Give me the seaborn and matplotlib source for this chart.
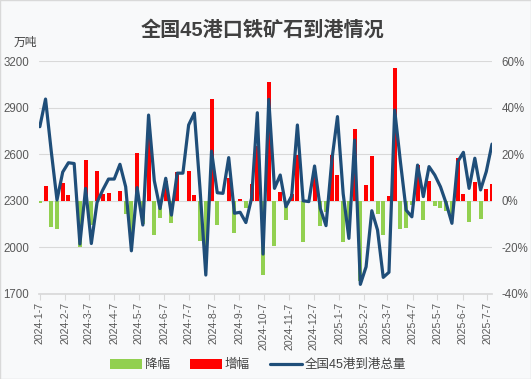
import numpy as np
import pandas as pd
import matplotlib
matplotlib.use('Agg')
import matplotlib.pyplot as plt
import seaborn as sns
from matplotlib.patches import Patch, Rectangle
from matplotlib.lines import Line2D

# weekly data, first week 2024-1-7
start_date = '2024-01-07'

# 全国45港到港总量 (万吨)
arrivals = [
    2777, 2955, 2618, 2305, 2485, 2545, 2540, 2022, 2380, 2025,
    2290, 2370, 2440, 2440, 2535, 2390, 1978, 2385, 2144, 2852,
    2430, 2250, 2445, 2208, 2478, 2478, 2788, 2865, 2370, 1822,
    2620, 2352, 2348, 2578, 2220, 2226, 2160, 2317, 2867, 1957,
    2953, 2380, 2466, 2262, 2331, 2788, 2300, 2295, 2524, 2250,
    2140, 2555, 2842, 2345, 2058, 2691, 1762, 1875, 2236, 2112,
    1807, 1840, 2884, 2551, 2240, 2197, 2530, 2327, 2520, 2466,
    2390, 2283, 2155, 2551, 2612, 2380, 2574, 2370, 2488, 2665,
]

# week-on-week change (%)
change_pct = [
    -1.0, 6.4, -11.4, -12.0, 7.8, 2.6, -0.2, -20.0, 17.7, -10.5,
    12.9, 3.0, 3.5, -0.3, 4.0, -5.7, -17.2, 20.6, -10.0, 30.0,
    -14.8, -7.4, 8.7, -9.7, 12.2, -0.3, 13.0, 2.7, -17.3, -23.1,
    43.8, -10.2, -0.3, 9.8, -14.0, 0.8, -3.2, 7.3, 23.7, -31.7,
    50.9, -19.5, 3.7, -8.3, 3.1, 19.8, -17.5, -0.2, 10.5, -10.9,
    -4.9, 19.5, 11.2, -17.5, -12.2, 30.8, -34.5, 6.6, 19.3, -5.7,
    -14.5, 2.0, 56.8, -12.0, -11.5, -1.9, 15.4, -8.1, 8.3, -2.2,
    -3.3, -4.5, -5.6, 18.3, 2.8, -8.9, 8.0, -8.0, 5.1, 7.3,
]

month_ticks = [
    '2024-1-7', '2024-2-7', '2024-3-7', '2024-4-7', '2024-5-7', '2024-6-7',
    '2024-7-7', '2024-8-7', '2024-9-7', '2024-10-7', '2024-11-7', '2024-12-7',
    '2025-1-7', '2025-2-7', '2025-3-7', '2025-4-7', '2025-5-7', '2025-6-7',
    '2025-7-7',
]

sns.set_theme(style='white')
plt.rcParams['font.family'] = ['Liberation Sans', 'Noto Sans CJK SC', 'DejaVu Sans']

weeks = pd.date_range(start_date, periods=len(arrivals), freq='7D')
df = pd.DataFrame({
    'day': (weeks - weeks[0]).days,
    'arrivals': arrivals,
    'pct': change_pct,
})
df['kind'] = np.where(df['pct'] < 0, '降幅', '增幅')

bg = '#f8f9fa'
grey_txt = '#595959'
fig = plt.figure(figsize=(5.31, 3.79), dpi=100, facecolor=bg)
ax = fig.add_axes([39 / 531, 1 - 294 / 379, 453 / 531, 233 / 379])
ax.set_facecolor(bg)

# bars (percent) on the primary axes, drawn under the line
sns.barplot(data=df, x='day', y='pct', hue='kind',
            palette={'降幅': '#92d050', '增幅': '#ff0000'},
            native_scale=True, dodge=False, width=0.7, saturation=1,
            errorbar=None, legend=False, linewidth=0, ax=ax)

ax2 = ax.twinx()
sns.lineplot(data=df, x='day', y='arrivals', color='#1f4e79', lw=2.3, ax=ax2)

ax.set_ylim(-40, 60)
ax2.set_ylim(1700, 3200)
ax.set_xlim(-1, 553)

pct_ticks = list(range(-40, 61, 20))
ax.set_yticks(pct_ticks)
ax.set_yticklabels([f'{v}%' for v in pct_ticks])
ax2.set_yticks(range(1700, 3201, 300))

# percent axis on the right, tonnage on the left
ax.yaxis.tick_right()
ax2.yaxis.tick_left()

tick_pos = (pd.to_datetime(month_ticks) - weeks[0]).days
ax.set_xticks(tick_pos)
ax.set_xticklabels(month_ticks, rotation=90)

ax.yaxis.grid(True, color='#d9d9d9', lw=0.8)
ax.set_axisbelow(True)
for a in (ax, ax2):
    for s in a.spines.values():
        s.set_visible(False)
    a.set_xlabel('')
    a.set_ylabel('')
ax.spines['bottom'].set_visible(True)
ax.spines['bottom'].set_color('#d9d9d9')

ax.tick_params(axis='x', length=4, width=0.8, color='#d9d9d9', pad=2,
               labelsize=7.6, labelcolor=grey_txt, bottom=True)
ax.tick_params(axis='y', length=0, pad=7, labelsize=8.3, labelcolor=grey_txt)
ax2.tick_params(axis='y', length=0, pad=7, labelsize=8.3, labelcolor=grey_txt)

fig.text(0.494, 1 - 30 / 379, '全国45港口铁矿石到港情况', ha='center', va='center',
         fontsize=14.5, fontweight='bold', color='#404040')
fig.text(14 / 531, 1 - 43 / 379, '万吨', ha='left', va='center',
         fontsize=8.5, color='#404040')

handles = [
    Patch(color='#92d050', lw=0),
    Patch(color='#ff0000', lw=0),
    Line2D([], [], color='#1f4e79', lw=2.3),
]
fig.legend(handles, ['降幅', '增幅', '全国45港到港总量'], loc='center',
           bbox_to_anchor=(0.486, 1 - 365 / 379), ncol=3, frameon=False,
           fontsize=9, handlelength=2.6, handleheight=0.9, handletextpad=0.2,
           columnspacing=1.6, labelcolor='#404040')

fig.patches.append(Rectangle((0, 0), 1, 1, transform=fig.transFigure,
                             fill=False, ec='#d9d9d9', lw=1))

fig.savefig('out.png', dpi=100, facecolor=fig.get_facecolor())
